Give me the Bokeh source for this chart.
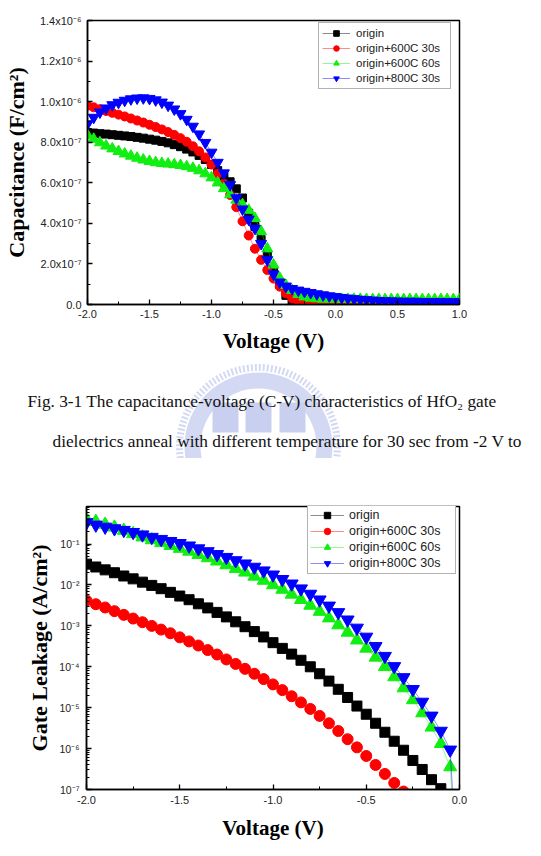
import math
from bokeh.plotting import figure
from bokeh.models import (Range1d, FixedTicker, SingleIntervalTicker, CustomJSTickFormatter,
                          NumeralTickFormatter, Legend, LegendItem)
from bokeh.layouts import column
from bokeh.embed import file_html
from bokeh.resources import INLINE
from bokeh.core.properties import value

# ---------------- C-V data (capacitance in units of 1e-7 F/cm^2) ----------------
cv_voltage = [-2.0, -1.95, -1.9, -1.85, -1.8, -1.75, -1.7, -1.65, -1.6, -1.55, -1.5, -1.45, -1.4,
              -1.35, -1.3, -1.25, -1.2, -1.15, -1.1, -1.05, -1.0, -0.95, -0.9, -0.85, -0.8, -0.75,
              -0.7, -0.65, -0.6, -0.55, -0.5, -0.45, -0.4, -0.35, -0.3, -0.25, -0.2, -0.15, -0.1,
              -0.05, 0.0, 0.05, 0.1, 0.15, 0.2, 0.25, 0.3, 0.35, 0.4, 0.45, 0.5, 0.55, 0.6, 0.65,
              0.7, 0.75, 0.8, 0.85, 0.9, 0.95, 1.0]

cv_origin_e7 = [8.48, 8.45, 8.42, 8.40, 8.37, 8.34, 8.31, 8.28, 8.24, 8.20, 8.15, 8.10, 8.04,
                7.97, 7.88, 7.78, 7.66, 7.52, 7.35, 7.15, 6.90, 6.60, 6.30, 6.05, 5.70, 5.25,
                4.50, 3.85, 3.20, 2.45, 1.70, 1.00, 0.45, 0.18, 0.10, 0.08, 0.07, 0.07, 0.06,
                0.06, 0.06, 0.06, 0.06, 0.06, 0.06, 0.06, 0.05, 0.05, 0.05, 0.05, 0.05, 0.05,
                0.05, 0.05, 0.05, 0.05, 0.05, 0.05, 0.05, 0.05, 0.05]

cv_600c30_e7 = [9.80, 9.72, 9.63, 9.54, 9.45, 9.36, 9.27, 9.17, 9.07, 8.97, 8.86, 8.75, 8.63,
                8.50, 8.36, 8.20, 8.02, 7.80, 7.55, 7.25, 6.90, 6.45, 5.95, 5.40, 4.80, 4.10,
                3.40, 2.75, 2.20, 1.70, 1.28, 0.88, 0.55, 0.30, 0.15, 0.08, 0.06, 0.06, 0.06,
                0.06, 0.06, 0.06, 0.06, 0.06, 0.06, 0.06, 0.05, 0.05, 0.05, 0.05, 0.05, 0.05,
                0.05, 0.05, 0.05, 0.05, 0.05, 0.05, 0.05, 0.05, 0.05]

cv_600c60_e7 = [8.35, 8.15, 7.98, 7.82, 7.68, 7.55, 7.43, 7.32, 7.22, 7.13, 7.06, 7.00, 6.96,
                6.93, 6.90, 6.86, 6.80, 6.72, 6.60, 6.45, 6.25, 6.00, 5.72, 5.42, 5.15, 4.93,
                4.65, 4.25, 3.60, 2.75, 1.95, 1.30, 0.95, 0.70, 0.50, 0.38, 0.32, 0.29, 0.27,
                0.26, 0.26, 0.26, 0.26, 0.26, 0.26, 0.25, 0.25, 0.25, 0.25, 0.25, 0.25, 0.25,
                0.25, 0.25, 0.25, 0.25, 0.25, 0.25, 0.25, 0.25, 0.25]

cv_800c30_e7 = [8.90, 9.22, 9.48, 9.68, 9.84, 9.96, 10.06, 10.13, 10.17, 10.18, 10.15, 10.08,
                9.97, 9.82, 9.63, 9.40, 9.12, 8.78, 8.40, 7.98, 7.50, 7.00, 6.48, 5.90, 5.25,
                4.70, 4.20, 3.75, 3.00, 2.20, 1.50, 1.10, 0.90, 0.78, 0.70, 0.64, 0.58, 0.52,
                0.47, 0.42, 0.38, 0.34, 0.31, 0.28, 0.25, 0.23, 0.21, 0.19, 0.18, 0.17, 0.16,
                0.15, 0.15, 0.15, 0.14, 0.14, 0.14, 0.14, 0.13, 0.13, 0.13]

# ---------------- Gate leakage data (log10 of A/cm^2) ----------------
NAN = float("nan")
iv_voltage = [-2.0, -1.95, -1.9, -1.85, -1.8, -1.75, -1.7, -1.65, -1.6, -1.55, -1.5, -1.45, -1.4,
              -1.35, -1.3, -1.25, -1.2, -1.15, -1.1, -1.05, -1.0, -0.95, -0.9, -0.85, -0.8, -0.75,
              -0.7, -0.65, -0.6, -0.55, -0.5, -0.45, -0.4, -0.35, -0.3, -0.25, -0.2, -0.15, -0.1,
              -0.05, 0.0]

iv_origin_log10 = [-1.49, -1.56, -1.63, -1.70, -1.78, -1.85, -1.93, -2.01, -2.09, -2.18, -2.27,
                   -2.36, -2.46, -2.56, -2.67, -2.78, -2.90, -3.02, -3.14, -3.27, -3.41, -3.55,
                   -3.69, -3.84, -4.00, -4.17, -4.35, -4.55, -4.75, -4.96, -5.16, -5.38, -5.60,
                   -5.82, -6.04, -6.29, -6.51, -6.76, -6.98, -7.35, NAN]

iv_600c30_log10 = [-2.38, -2.47, -2.55, -2.64, -2.73, -2.82, -2.91, -3.00, -3.09, -3.18, -3.28,
                   -3.38, -3.48, -3.59, -3.70, -3.82, -3.93, -4.05, -4.17, -4.30, -4.43, -4.57,
                   -4.72, -4.87, -5.03, -5.20, -5.38, -5.57, -5.77, -5.97, -6.18, -6.40, -6.62,
                   -6.84, -7.05, -7.30, NAN, NAN, NAN, NAN, NAN]

iv_600c60_log10 = [-0.39, -0.45, -0.52, -0.59, -0.67, -0.75, -0.83, -0.90, -0.97, -1.04, -1.11,
                   -1.18, -1.26, -1.34, -1.42, -1.51, -1.60, -1.69, -1.79, -1.89, -2.00, -2.11,
                   -2.23, -2.36, -2.50, -2.65, -2.81, -2.98, -3.16, -3.35, -3.55, -3.77, -4.00,
                   -4.25, -4.52, -4.81, -5.13, -5.48, -5.88, -6.45, -10.0]

iv_800c30_log10 = [-0.47, -0.53, -0.58, -0.62, -0.66, -0.71, -0.77, -0.83, -0.88, -0.93, -0.98,
                   -1.04, -1.11, -1.18, -1.25, -1.32, -1.40, -1.48, -1.56, -1.65, -1.75, -1.86,
                   -1.97, -2.09, -2.22, -2.36, -2.51, -2.67, -2.85, -3.05, -3.27, -3.50, -3.74,
                   -3.99, -4.26, -4.55, -4.86, -5.20, -5.57, -6.03, -10.0]

series_names = ["origin", "origin+600C 30s", "origin+600C 60s", "origin+800C 30s"]
series_colors = ["#000000", "#ff0000", "#11ee11", "#0000ff"]
series_markers = ["square", "circle", "triangle", "inverted_triangle"]

cap_label_ticks = [0, 2e-7, 4e-7, 6e-7, 8e-7, 1.0e-6, 1.2e-6, 1.4e-6]
cap_minor_ticks = [1e-7, 3e-7, 5e-7, 7e-7, 9e-7, 1.1e-6, 1.3e-6]
leak_label_ticks = [1e-7, 1e-6, 1e-5, 1e-4, 1e-3, 1e-2, 1e-1]

caption_line1 = "Fig. 3-1 The capacitance-voltage (C-V) characteristics of HfO\u2082 gate"
caption_line2 = "dielectrics anneal with different temperature for 30 sec from -2 V to"

# derived (unit conversions only)
cv_series = [[v * 1e-7 for v in s] for s in (cv_origin_e7, cv_600c30_e7, cv_600c60_e7, cv_800c30_e7)]
iv_series = [[(10.0 ** e) if not math.isnan(e) else NAN for e in s]
             for s in (iv_origin_log10, iv_600c30_log10, iv_600c60_log10, iv_800c30_log10)]

SUP = 'const sup={"-":"\u207b","0":"\u2070","1":"\u00b9","2":"\u00b2","3":"\u00b3","4":"\u2074","5":"\u2075","6":"\u2076","7":"\u2077","8":"\u2078","9":"\u2079"};'
sci_fmt = CustomJSTickFormatter(code=SUP + """
if (Math.abs(tick) < 1e-15) { return "0.0"; }
const e = Math.floor(Math.log10(tick) + 1e-9);
const m = tick / Math.pow(10, e);
return m.toFixed(1) + "x10" + String(e).split("").map(c => sup[c]).join("");
""")
log_fmt = CustomJSTickFormatter(code=SUP + """
const e = Math.round(Math.log10(tick));
return "10" + String(e).split("").map(c => sup[c]).join("");
""")


def style(p):
    for ax in p.axis:
        ax.axis_line_width = 1.5
        ax.major_tick_in = 5
        ax.major_tick_out = 0
        ax.minor_tick_in = 3
        ax.minor_tick_out = 0
        ax.major_tick_line_width = 1.3
        ax.minor_tick_line_width = 1
        ax.major_label_text_font = "Liberation Sans"
        ax.major_label_text_font_size = "11px"
        ax.major_label_text_color = "#222222"
        ax.axis_label_text_font = "Liberation Serif"
        ax.axis_label_text_font_style = "bold"
        ax.axis_label_text_color = "#000000"
    p.grid.visible = False
    p.outline_line_color = "black"
    p.outline_line_width = 1.5
    p.background_fill_color = "white"
    p.border_fill_color = "white"


def add_series(p, x, ys_list, sizes):
    items = []
    for name, ys, color, marker, size in zip(series_names, ys_list, series_colors, series_markers, sizes):
        ln = p.line(x, ys, line_color=color, line_alpha=0.45, line_width=1)
        sc = p.scatter(x, ys, marker=marker, size=size, fill_color=color, line_color=color)
        items.append(LegendItem(label=name, renderers=[ln, sc]))
    return items


# ---------------- Top: C-V ----------------
p1 = figure(width=541, height=362, x_range=Range1d(-2, 1), y_range=Range1d(0, 1.4e-6),
            output_backend="svg", toolbar_location=None, frame_align=False,
            min_border_left=87, min_border_right=82, min_border_top=20, min_border_bottom=58)
style(p1)
p1.xaxis[0].ticker = SingleIntervalTicker(interval=0.5, num_minor_ticks=2)
p1.xaxis[0].formatter = NumeralTickFormatter(format="0.0")
p1.xaxis[0].axis_label = "Voltage (V)"
p1.xaxis[0].axis_label_text_font_size = "21px"
p1.xaxis[0].major_label_standoff = 5
p1.xaxis[0].axis_label_standoff = 8
p1.yaxis[0].ticker = FixedTicker(ticks=cap_label_ticks, minor_ticks=cap_minor_ticks)
p1.yaxis[0].formatter = sci_fmt
p1.yaxis[0].axis_label = "Capacitance (F/cm\u00b2)"
p1.yaxis[0].axis_label_text_font_size = "22px"
p1.yaxis[0].major_label_standoff = 6
p1.yaxis[0].axis_label_standoff = 8

items1 = add_series(p1, cv_voltage, cv_series, [8, 9, 11, 11])
leg1 = Legend(items=items1, location=(231, 215), padding=3, spacing=1, margin=0,
              glyph_width=28, glyph_height=14, label_height=14, label_width=91, label_standoff=6,
              label_text_font="Liberation Sans", label_text_font_size="11.5px",
              label_text_color="#222222", border_line_color="#666666", border_line_width=1,
              background_fill_color="white", background_fill_alpha=1)
p1.add_layout(leg1)

# ---------------- Middle: caption ----------------
pc = figure(width=541, height=96, x_range=Range1d(0, 541), y_range=Range1d(96, 0),
            output_backend="svg", toolbar_location=None, min_border=0, frame_align=False,
            x_axis_location=None, y_axis_location=None)
pc.grid.visible = False
pc.outline_line_color = None
pc.background_fill_color = "white"
pc.border_fill_color = "white"
# faint watermark emblem
pc.circle(x=[258], y=[84], radius=79, radius_units="screen", fill_color=None,
          line_color="#d3d9f3", line_width=7, line_dash="2 2")
pc.annulus(x=[258], y=[84], inner_radius=58, outer_radius=74, inner_radius_units="screen",
           outer_radius_units="screen", fill_color="#d3d9f3", line_color=None)
pc.rect(x=[225, 258, 292], y=[55, 55, 55], width=[26, 26, 26], height=[30, 30, 30],
        width_units="screen", height_units="screen", fill_color="#c9d0ef", line_color=None)
pc.text(x=[27], y=[38.7], text=[caption_line1], text_font=value("Liberation Serif"),
        text_font_size="17.3px", text_baseline="alphabetic", text_color="#111111")
pc.text(x=[52], y=[78.5], text=[caption_line2], text_font=value("Liberation Serif"),
        text_font_size="17.3px", text_baseline="alphabetic", text_color="#111111")

# ---------------- Bottom: gate leakage ----------------
p2 = figure(width=541, height=398, x_range=Range1d(-2, 0), y_range=Range1d(1e-7, 0.83),
            y_axis_type="log", output_backend="svg", toolbar_location=None, frame_align=False,
            min_border_left=86, min_border_right=82, min_border_top=48, min_border_bottom=67)
style(p2)
p2.xaxis[0].ticker = SingleIntervalTicker(interval=0.5, num_minor_ticks=2)
p2.xaxis[0].formatter = NumeralTickFormatter(format="0.0")
p2.xaxis[0].axis_label = "Voltage (V)"
p2.xaxis[0].axis_label_text_font_size = "21px"
p2.xaxis[0].major_label_standoff = 6
p2.xaxis[0].axis_label_standoff = 9
leak_minor = [k * t for t in leak_label_ticks for k in (2, 3, 4, 5, 6, 7, 8, 9)]
p2.yaxis[0].ticker = FixedTicker(ticks=leak_label_ticks, minor_ticks=leak_minor)
p2.yaxis[0].formatter = log_fmt
p2.yaxis[0].axis_label = "Gate Leakage (A/cm\u00b2)"
p2.yaxis[0].axis_label_text_font_size = "22px"
p2.yaxis[0].major_label_standoff = 7
p2.yaxis[0].major_label_text_font_size = "10.5px"
p2.yaxis[0].axis_label_standoff = 4

items2 = add_series(p2, iv_voltage, iv_series, [10, 11, 13, 13])
leg2 = Legend(items=items2, location=(221, 215), padding=2, spacing=0, margin=0,
              glyph_width=34, glyph_height=16, label_height=16, label_width=104, label_standoff=5,
              label_text_font="Liberation Sans", label_text_font_size="12.5px",
              label_text_color="#222222", border_line_color="#666666", border_line_width=1,
              background_fill_color="white", background_fill_alpha=1)
p2.add_layout(leg2)

layout = column(p1, pc, p2, spacing=0)
with open("out.html", "w", encoding="utf-8") as f:
    f.write(file_html(layout, INLINE))
